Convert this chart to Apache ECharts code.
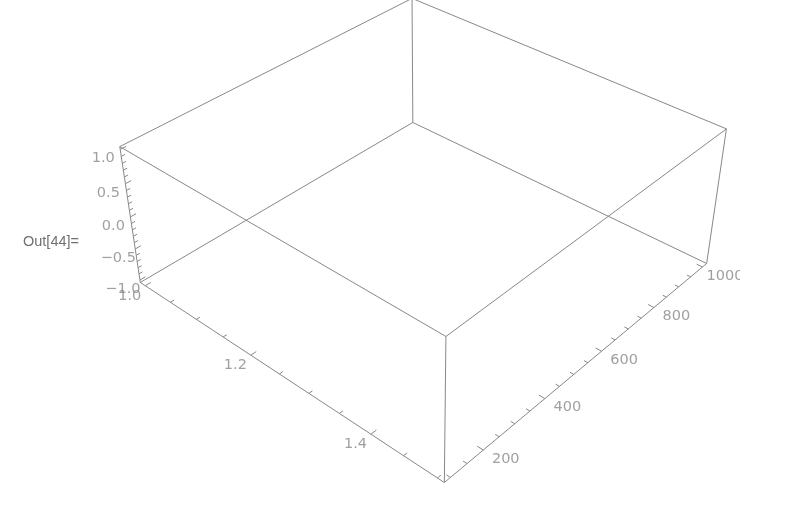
<!DOCTYPE html>
<html><head><meta charset="utf-8">
<script src="https://cdn.jsdelivr.net/npm/echarts@6/dist/echarts.min.js"></script>
<style>html,body{margin:0;padding:0;background:#fff}#c{width:800px;height:513px}</style>
</head><body><div id="c"></div>
<script>
// ---- data (axis ranges, ticks, labels) ----
const xDataRange = [1.0, 1.5];
const yDataRange = [100, 1000];
const zDataRange = [-1, 1];
const xMajorTicks = [1.0, 1.2, 1.4];
const xMinorTicks = [1.05, 1.1, 1.15, 1.25, 1.3, 1.35, 1.45, 1.5];
const xTickLabels = ['1.0', '1.2', '1.4'];
const yMajorTicks = [200, 400, 600, 800, 1000];
const yMinorTicks = [100, 150, 250, 300, 350, 450, 500, 550, 650, 700, 750, 850, 900, 950];
const yTickLabels = ['200', '400', '600', '800', '1000'];
const zMajorTicks = [-1, -0.5, 0, 0.5, 1];
const zMinorTicks = [-0.9, -0.8, -0.7, -0.6, -0.4, -0.3, -0.2, -0.1, 0.1, 0.2, 0.3, 0.4, 0.6, 0.7, 0.8, 0.9];
const zTickLabels = ['\u22121.0', '\u22120.5', '0.0', '0.5', '1.0'];
const outLabel = 'Out[44]=';

// ---- view / layout ----
const PAD = 0.02;
const BOX = [1, 1, 0.4];
const VIEW = { dist: 3.38, az: -48.1, el: 35.5 };
const SCALE = 1402, CX = 426, CY = 207.6;
const W = 800, H = 513;
const MAJOR_LEN = 0.017, MINOR_LEN = 0.011;
const LINE_COLOR = '#888888';
const TEXT_COLOR = '#888888';
const LABEL_OFF = { x: [-15.5, 10.5], y: [22.5, 8.8], z: [-17, 9.2] };

function padded(r) { const d = r[1] - r[0]; return [r[0] - PAD * d, r[1] + PAD * d]; }
const XR = padded(xDataRange), YR = padded(yDataRange), ZR = padded(zDataRange);

function norm(x, y, z) {
  return [((x - XR[0]) / (XR[1] - XR[0]) - 0.5) * BOX[0],
          ((y - YR[0]) / (YR[1] - YR[0]) - 0.5) * BOX[1],
          ((z - ZR[0]) / (ZR[1] - ZR[0]) - 0.5) * BOX[2]];
}
const az = VIEW.az * Math.PI / 180, el = VIEW.el * Math.PI / 180;
const R = [-Math.sin(az), Math.cos(az), 0];
const U = [-Math.sin(el) * Math.cos(az), -Math.sin(el) * Math.sin(az), Math.cos(el)];
const F = [-Math.cos(el) * Math.cos(az), -Math.cos(el) * Math.sin(az), -Math.sin(el)];
const dot = (a, b) => a[0] * b[0] + a[1] * b[1] + a[2] * b[2];
function project(p) {
  const dep = dot(p, F) + VIEW.dist;
  return [dot(p, R) / dep, dot(p, U) / dep];
}
const add = (a, b, s) => [a[0] + b[0] * s, a[1] + b[1] * s, a[2] + b[2] * s];

// box edges
const edges = [];
const xs = [XR[0], XR[1]], ys = [YR[0], YR[1]], zs = [ZR[0], ZR[1]];
for (const y of ys) for (const z of zs) edges.push({ coords: [project(norm(xs[0], y, z)), project(norm(xs[1], y, z))] });
for (const x of xs) for (const z of zs) edges.push({ coords: [project(norm(x, ys[0], z)), project(norm(x, ys[1], z))] });
for (const x of xs) for (const y of ys) edges.push({ coords: [project(norm(x, y, zs[0])), project(norm(x, y, zs[1]))] });

// ticks
const ticks = [];
const labels = [];
function addTicks(vals, len, pointFn, dir) {
  for (const v of vals) {
    const p = pointFn(v);
    ticks.push({ coords: [project(p), project(add(p, dir, len))] });
  }
}
const xPt = v => norm(v, YR[0], ZR[0]);
const yPt = v => norm(XR[1], v, ZR[0]);
const zPt = v => norm(XR[0], YR[0], v);
addTicks(xMajorTicks, MAJOR_LEN, xPt, [0, 1, 0]);
addTicks(xMinorTicks, MINOR_LEN, xPt, [0, 1, 0]);
addTicks(yMajorTicks, MAJOR_LEN, yPt, [-1, 0, 0]);
addTicks(yMinorTicks, MINOR_LEN, yPt, [-1, 0, 0]);
addTicks(zMajorTicks, MAJOR_LEN, zPt, [0, 1, 0]);
addTicks(zMinorTicks, MINOR_LEN, zPt, [0, 1, 0]);

function addLabels(vals, texts, pointFn, off) {
  vals.forEach((v, i) => {
    const s = project(pointFn(v));
    labels.push({ name: texts[i], value: [s[0] + off[0] / SCALE, s[1] - off[1] / SCALE] });
  });
}
addLabels(xMajorTicks, xTickLabels, xPt, LABEL_OFF.x);
addLabels(yMajorTicks, yTickLabels, yPt, LABEL_OFF.y);
addLabels(zMajorTicks, zTickLabels, zPt, LABEL_OFF.z);

const chart = echarts.init(document.getElementById('c'), null, { renderer: 'canvas' });
chart.setOption({
  animation: false,
  backgroundColor: '#ffffff',
  grid: { left: 0, right: 0, top: 0, bottom: 0 },
  xAxis: { type: 'value', min: -CX / SCALE, max: (W - CX) / SCALE, show: false },
  yAxis: { type: 'value', min: (CY - H) / SCALE, max: CY / SCALE, show: false },
  series: [
    { type: 'lines', coordinateSystem: 'cartesian2d', silent: true, data: edges,
      lineStyle: { color: LINE_COLOR, width: 1, opacity: 1 } },
    { type: 'lines', coordinateSystem: 'cartesian2d', silent: true, data: ticks,
      lineStyle: { color: LINE_COLOR, width: 1, opacity: 1 } },
    { type: 'scatter', silent: true, symbolSize: 1, itemStyle: { color: 'rgba(0,0,0,0)' }, data: labels,
      label: { show: true, position: 'inside', formatter: '{b}', color: TEXT_COLOR,
               fontFamily: 'DejaVu Sans', fontSize: 14.5 } }
  ],
  graphic: [
    { type: 'rect', z: 100, left: 740, top: 262, shape: { width: 60, height: 28 }, style: { fill: '#ffffff' } },
    { type: 'text', z: 100, left: 23, top: 234, style: { text: outLabel, fill: '#707070',
      font: '14.5px "Liberation Sans", Arial, sans-serif' } }
  ]
});
</script></body></html>
